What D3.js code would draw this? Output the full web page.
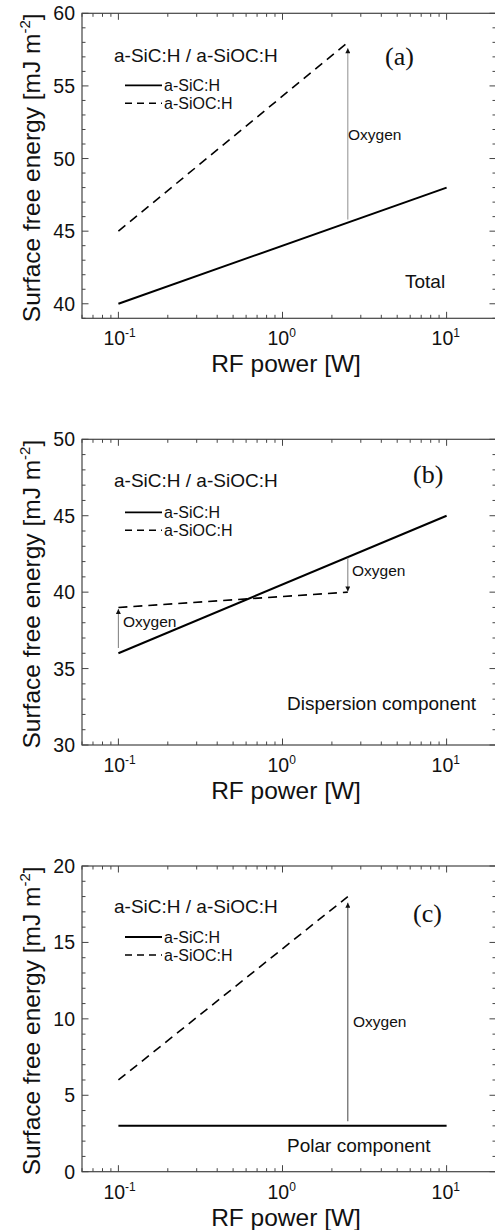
<!DOCTYPE html>
<html>
<head>
<meta charset="utf-8">
<script src="https://cdn.jsdelivr.net/npm/d3@7"></script>
<style>
  html, body { margin: 0; padding: 0; background: #fff; }
  svg { display: block; }
  text { font-family: Arial, "Liberation Sans", sans-serif; fill: #111; }
</style>
</head>
<body>
<script>
// RF power (W) at which each film was measured
const sicPower = [0.1, 10];
const siocPower = [0.1, 2.5];

// Surface free energy, mJ m^-2
const totalSiC = [40, 48];
const totalSiOC = [45, 58];
const dispSiC = [36, 45];
const dispSiOC = [39, 40];
const polarSiC = [3, 3];
const polarSiOC = [6, 18];

// Oxygen arrows: [power, from, to]
const totalArrows = [[2.5, 45.8, 57.6]];
const dispArrows = [[0.1, 36.35, 38.9], [2.5, 42.25, 40.05]];
const polarArrows = [[2.5, 3.3, 17.6]];

const powerTicks = [0.1, 1, 10];
const powerDomain = [0.06, 20];
const legendNames = ["a-SiC:H", "a-SiOC:H"];
const panelTitle = "a-SiC:H / a-SiOC:H";

const W = 495, H = 1230;
const left = 82, right = 496;

const svg = d3.select("body").append("svg")
  .attr("width", W).attr("height", H);

svg.append("defs").append("marker")
  .attr("id", "head")
  .attr("viewBox", "0 0 10 10")
  .attr("refX", 10).attr("refY", 5)
  .attr("markerUnits", "userSpaceOnUse")
  .attr("markerWidth", 7).attr("markerHeight", 5)
  .attr("orient", "auto")
  .append("path").attr("d", "M0,0 L10,5 L0,10 Z").attr("fill", "#111");

const x = d3.scaleLog().domain(powerDomain).range([left, right]);

function panel(cfg) {
  const g = svg.append("g");
  const top = cfg.top, bottom = cfg.bottom;
  const y = d3.scaleLinear().domain(cfg.yDomain).range([bottom, top]);

  // frame
  g.append("rect").attr("x", left).attr("y", top)
    .attr("width", right - left).attr("height", bottom - top)
    .attr("fill", "none").attr("stroke", "#444").attr("stroke-width", 1.2);

  // x ticks (bottom + top, inward)
  const xMinor = [];
  for (let d = 0.01; d <= 10; d *= 10) {
    for (let k = 1; k <= 9; k++) {
      const v = +(d * k).toPrecision(3);
      if (v >= powerDomain[0] && v <= powerDomain[1]) xMinor.push(v);
    }
  }
  xMinor.forEach(v => {
    const major = powerTicks.includes(v);
    const len = major ? 6.5 : 3.5;
    g.append("line").attr("x1", x(v)).attr("x2", x(v))
      .attr("y1", bottom).attr("y2", bottom - len)
      .attr("stroke", "#444").attr("stroke-width", 1);
    g.append("line").attr("x1", x(v)).attr("x2", x(v))
      .attr("y1", top).attr("y2", top + len)
      .attr("stroke", "#444").attr("stroke-width", 1);
  });

  // y ticks (left + right, inward)
  const [y0, y1] = cfg.yDomain;
  for (let v = Math.ceil(y0); v <= y1; v += 1) {
    const major = v % 5 === 0;
    const len = major ? 6.5 : 3.5;
    g.append("line").attr("x1", left).attr("x2", left + len)
      .attr("y1", y(v)).attr("y2", y(v))
      .attr("stroke", "#444").attr("stroke-width", 1);
    g.append("line").attr("x1", right).attr("x2", right - len)
      .attr("y1", y(v)).attr("y2", y(v))
      .attr("stroke", "#444").attr("stroke-width", 1);
    if (major) {
      g.append("text").attr("x", left - 7).attr("y", y(v) + 7)
        .attr("text-anchor", "end").attr("font-size", 19.5).text(v);
    }
  }

  // x tick labels 10^n
  powerTicks.forEach(v => {
    const t = g.append("text").attr("x", x(v) - 15).attr("y", bottom + 27)
      .attr("font-size", 19.5);
    t.append("tspan").text("10");
    t.append("tspan").attr("dy", -8).attr("font-size", 12)
      .text(String(Math.round(Math.log10(v))));
  });

  // axis titles
  g.append("text").attr("x", (left + right) / 2 - 3).attr("y", bottom + 54)
    .attr("text-anchor", "middle").attr("font-size", 24.5).text("RF power [W]");
  const yl = g.append("text")
    .attr("transform", `translate(40,${(top + bottom) / 2 + 2}) rotate(-90)`)
    .attr("text-anchor", "middle").attr("font-size", 24.5);
  yl.append("tspan").text("Surface free energy [mJ m");
  yl.append("tspan").attr("dy", -10).attr("font-size", 15).text("-2");
  yl.append("tspan").attr("dy", 10).text("]");

  // curves
  const line = d3.line().x(d => x(d[0])).y(d => y(d[1]));
  g.append("path").datum(d3.zip(sicPower, cfg.sic))
    .attr("d", line).attr("fill", "none")
    .attr("stroke", "#000").attr("stroke-width", 2);
  g.append("path").datum(d3.zip(siocPower, cfg.sioc))
    .attr("d", line).attr("fill", "none")
    .attr("stroke", "#000").attr("stroke-width", 1.6)
    .attr("stroke-dasharray", "9,6");

  // oxygen arrows
  cfg.arrows.forEach(a => {
    g.append("line").attr("x1", x(a[0])).attr("x2", x(a[0]))
      .attr("y1", y(a[1])).attr("y2", y(a[2]))
      .attr("stroke", cfg.arrowColor).attr("stroke-width", 1.1)
      .attr("marker-end", "url(#head)");
  });
  cfg.oxygenLabels.forEach(p => {
    g.append("text").attr("x", p[0]).attr("y", top + p[1])
      .attr("font-size", 15.5).text("Oxygen");
  });

  // title, panel letter, legend, component label
  g.append("text").attr("x", 114).attr("y", top + cfg.titleDy)
    .attr("font-size", 19).text(panelTitle);
  g.append("text").attr("x", cfg.letterX).attr("y", top + cfg.letterDy)
    .attr("font-size", 26)
    .style("font-family", "'Liberation Serif', 'Times New Roman', serif")
    .text(cfg.letter);
  legendNames.forEach((name, i) => {
    const ly = top + cfg.legendDy + i * 18;
    g.append("line").attr("x1", 125).attr("x2", 162)
      .attr("y1", ly).attr("y2", ly)
      .attr("stroke", "#000").attr("stroke-width", i ? 1.4 : 1.8)
      .attr("stroke-dasharray", i ? "7,5" : null);
    g.append("text").attr("x", 164).attr("y", ly + 6)
      .attr("font-size", 16).text(name);
  });
  g.append("text").attr("x", cfg.compX).attr("y", top + cfg.compDy)
    .attr("font-size", 19).text(cfg.component);
}

panel({
  top: 13.3, bottom: 318.3, yDomain: [39, 60],
  sic: totalSiC, sioc: totalSiOC, arrows: totalArrows, arrowColor: "#999",
  oxygenLabels: [[348, 127]],
  titleDy: 49, letter: "(a)", letterX: 385, letterDy: 52, legendDy: 72,
  component: "Total", compX: 405, compDy: 275
});

panel({
  top: 439.3, bottom: 745, yDomain: [30, 50],
  sic: dispSiC, sioc: dispSiOC, arrows: dispArrows, arrowColor: "#888",
  oxygenLabels: [[123, 188], [352, 137]],
  titleDy: 48, letter: "(b)", letterX: 413, letterDy: 44, legendDy: 73,
  component: "Dispersion component", compX: 287, compDy: 271
});

panel({
  top: 866, bottom: 1171.7, yDomain: [0, 20],
  sic: polarSiC, sioc: polarSiOC, arrows: polarArrows, arrowColor: "#555",
  oxygenLabels: [[353, 161]],
  titleDy: 47, letter: "(c)", letterX: 413, letterDy: 56, legendDy: 71,
  component: "Polar component", compX: 287, compDy: 286
});
</script>
</body>
</html>
